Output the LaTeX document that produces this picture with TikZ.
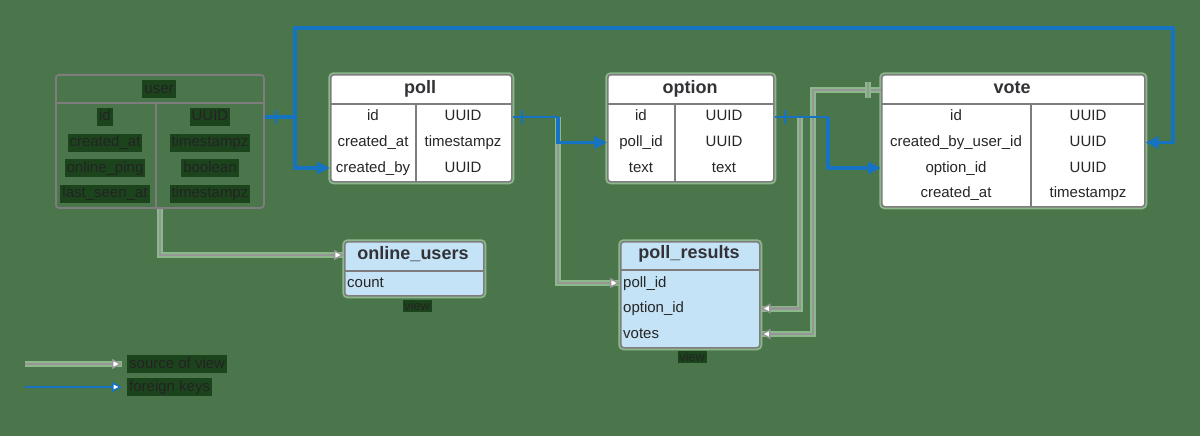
\documentclass[tikz,border=0pt]{standalone}
\usepackage{fontspec}
\setmainfont{Liberation Sans}
\usetikzlibrary{arrows.meta}
\definecolor{bg}{RGB}{75,118,75}
\definecolor{halo}{RGB}{140,185,140}
\definecolor{lineg}{RGB}{125,125,125}
\definecolor{srcg}{RGB}{150,150,150}
\definecolor{fkblue}{RGB}{21,115,193}
\definecolor{viewfill}{RGB}{197,227,246}
\definecolor{dimtxt}{RGB}{35,35,35}
\definecolor{dimbg}{RGB}{28,68,28}
\definecolor{ttlc}{RGB}{50,50,55}
\begin{document}
\begin{tikzpicture}[x=1pt,y=-1pt,
  tbl/.style={draw=lineg, line width=1.6pt, rounded corners=3pt, fill=white, anchor=north west, inner sep=0pt,
     preaction={draw=halo, line width=5pt}},
  usertbl/.style={draw=lineg, line width=1.8pt, rounded corners=3pt, anchor=north west, inner sep=0pt},
  viewtbl/.style={tbl, fill=viewfill},
  sep/.style={draw=lineg, line width=1.6pt},
  cell/.style={font=\fontsize{15}{17}\selectfont, text=black!85, inner sep=1pt, text height=11pt, text depth=3pt},
  lcell/.style={cell, anchor=west},
  ttl/.style={font=\bfseries\fontsize{18}{20}\selectfont, text=ttlc, inner sep=1pt, text height=13pt, text depth=3.5pt},
  dim/.style={cell, text=dimtxt, fill=dimbg, inner sep=2pt},
  smalldim/.style={font=\fontsize{13}{15}\selectfont, text=dimtxt, fill=dimbg, inner sep=1.5pt},
  fkline/.style={draw=fkblue, line width=3.2pt},
  fk/.style={fkline, -{Triangle[length=13pt,width=12pt]}},
  tick/.style={draw=fkblue, line width=2.4pt},
  srcline/.style={draw=srcg, line width=2.4pt, preaction={draw=halo, line width=6pt, -}},
  src/.style={srcline, -{Triangle[open, fill=white, length=10pt, width=10pt, line width=1.4pt]}},
  srctick/.style={draw=srcg, line width=2.4pt, preaction={draw=halo, line width=6pt}}
]
\fill[bg] (0,0) rectangle (1200,436);
\useasboundingbox (0,0) rectangle (1200,436);

% ---------- user table ----------
\node[usertbl, minimum width=208pt, minimum height=133pt] (user) at (55,74) {};
\draw[sep] (55,103) -- (263,103);
\draw[sep] (156,103) -- (156,207);
\node[dim] (u-title) at (159,89) {user};
\node[dim] (u-id) at (105,117) {id};
\node[dim] (u-ca) at (105,142.5) {created\_at};
\node[dim] (u-op) at (105,168) {online\_ping};
\node[dim] (u-ls) at (105,193.5) {last\_seen\_at};
\node[dim] (u-idt) at (210,117) {UUID};
\node[dim] (u-cat) at (210,142.5) {timestampz};
\node[dim] (u-opt) at (210,168) {boolean};
\node[dim] (u-lst) at (210,193.5) {timestampz};

% ---------- poll table ----------
\node[tbl, minimum width=181pt, minimum height=107pt] (poll) at (330,74) {};
\draw[sep] (330,104) -- (511,104);
\draw[sep] (416,104) -- (416,181);
\node[ttl] (p-title) at (420,89) {poll};
\node[cell] (p-id) at (373,117) {id};
\node[cell] (p-ca) at (373,142.5) {created\_at};
\node[cell] (p-cb) at (373,168) {created\_by};
\node[cell] (p-idt) at (463,117) {UUID};
\node[cell] (p-cat) at (463,142.5) {timestampz};
\node[cell] (p-cbt) at (463,168) {UUID};

% ---------- option table ----------
\node[tbl, minimum width=166pt, minimum height=107pt] (option) at (607,74) {};
\draw[sep] (607,104) -- (773,104);
\draw[sep] (675,104) -- (675,181);
\node[ttl] (o-title) at (690,89) {option};
\node[cell] (o-id) at (641,117) {id};
\node[cell] (o-pid) at (641,142.5) {poll\_id};
\node[cell] (o-txt) at (641,168) {text};
\node[cell] (o-idt) at (724,117) {UUID};
\node[cell] (o-pidt) at (724,142.5) {UUID};
\node[cell] (o-txtt) at (724,168) {text};

% ---------- vote table ----------
\node[tbl, minimum width=263pt, minimum height=132pt] (vote) at (881,74) {};
\draw[sep] (881,104) -- (1144,104);
\draw[sep] (1031,104) -- (1031,206);
\node[ttl] (v-title) at (1012,89) {vote};
\node[cell] (v-id) at (956,117) {id};
\node[cell] (v-cb) at (956,142.5) {created\_by\_user\_id};
\node[cell] (v-oid) at (956,168) {option\_id};
\node[cell] (v-ca) at (956,193.5) {created\_at};
\node[cell] (v-idt) at (1088,117) {UUID};
\node[cell] (v-cbt) at (1088,142.5) {UUID};
\node[cell] (v-oidt) at (1088,168) {UUID};
\node[cell] (v-cat) at (1088,193.5) {timestampz};

% ---------- online_users view ----------
\node[viewtbl, minimum width=139pt, minimum height=54pt] (online) at (344,241) {};
\draw[sep] (344,271) -- (483,271);
\node[ttl] (ou-title) at (413,255) {online\_users};
\node[lcell] (ou-count) at (346,283) {count};
\node[smalldim] (ou-view) at (417,306) {view};

% ---------- poll_results view ----------
\node[viewtbl, minimum width=139pt, minimum height=106pt] (prs) at (620,241) {};
\draw[sep] (620,270) -- (759,270);
\node[ttl] (r-title) at (689,254) {poll\_results};
\node[lcell] (r-pid) at (622,283) {poll\_id};
\node[lcell] (r-oid) at (622,308.5) {option\_id};
\node[lcell] (r-votes) at (622,334) {votes};
\node[smalldim] (r-view) at (692,357) {view};

% ---------- junction coordinates ----------
\coordinate (j1) at (295,117);
\coordinate (top2) at (1173,28);
\coordinate (j2) at (558,117);
\coordinate (j3) at (800,117);
\coordinate (j4) at (828,117);
\coordinate (vj) at (813,90);

% ---------- source-of-view connectors ----------
\draw[src] (user.south) |- (online.west |- ou-title);
\draw[src] (j2) |- (prs.west |- r-pid);
\draw[src] (j3) |- (prs.east |- r-oid);
\draw[src] (vote.west |- vj) -- (vj) |- (prs.east |- r-votes);
\draw[srctick] (868,82) -- (868,98);

% ---------- foreign key connectors ----------
\draw[fkline] (user.east |- j1) -- (j1);
\draw[tick] (276,110) -- (276,124);
\draw[fk] (j1) |- (poll.west |- p-cb);
\draw[fk] (j1) |- (top2) |- (vote.east |- v-cb);

\draw[fkline, line width=2pt] (poll.east |- j2) -- (j2);
\draw[tick] (522,110) -- (522,124);
\draw[fk] (j2) |- (option.west |- o-pid);

\draw[fkline, line width=2pt] (option.east |- j4) -- (j4);
\draw[tick] (785,110) -- (785,124);
\draw[fk] (j4) |- (vote.west |- v-oid);

% ---------- legend ----------
\coordinate (lg1) at (25,364);
\coordinate (lg2) at (25,387);
\node[dim, anchor=west] (lg-src) at (127,364) {source of view};
\node[dim, anchor=west] (lg-fk) at (127,387) {foreign keys};
\draw[src, shorten >=5pt] (lg1) -- (lg-src.west);
\draw[fkline, line width=2.2pt, -{Triangle[open, fill=white, length=10pt, width=10pt, line width=1.6pt]}, shorten >=5pt] (lg2) -- (lg-fk.west);
\end{tikzpicture}
\end{document}
